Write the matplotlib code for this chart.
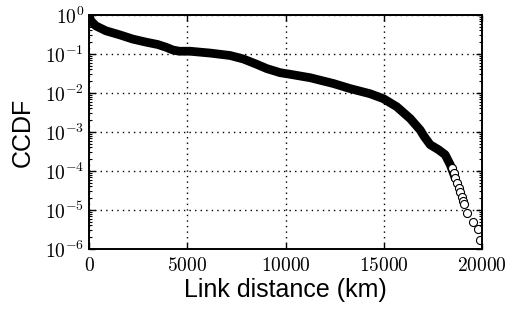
import math
import matplotlib
matplotlib.use('Agg')
import matplotlib.pyplot as plt
from matplotlib.ticker import FuncFormatter, LogLocator, FixedLocator

plt.rcParams['mathtext.fontset'] = 'cm'
plt.rcParams['font.family'] = ['Liberation Sans', 'DejaVu Sans']

# CCDF of link distance (dense part of the curve)
dist_km = [0, 100, 356, 865, 1542, 2224, 2901, 3496, 3919, 4260, 4590, 5140,
           6158, 7176, 7852, 8534, 9043, 9720, 10229, 11247, 12430, 13282,
           14300, 14977, 15659, 16336, 16845, 17050, 17354, 17775, 18117,
           18372, 18626]
ccdf = [0.95, 0.70, 0.52, 0.39, 0.31, 0.24, 0.20, 0.174, 0.148, 0.126, 0.117,
        0.117, 0.105, 0.091, 0.074, 0.054, 0.042, 0.033, 0.030, 0.0245,
        0.0174, 0.0129, 0.0095, 0.0071, 0.0044, 0.0022, 0.00112, 7.6e-4,
        4.7e-4, 3.5e-4, 2.6e-4, 1.45e-4, 6.6e-5]

# sparse tail, drawn as separate open circles
tail_km = [18450, 18540, 18626, 18710, 18796, 18880, 18967, 19030, 19084,
           19222, 19517, 19796, 19873]
tail_ccdf = [1.2e-4, 9.0e-5, 6.6e-5, 5.0e-5, 3.6e-5, 2.8e-5, 2.2e-5, 1.7e-5,
             1.38e-5, 8.5e-6, 4.8e-6, 3.2e-6, 1.7e-6]

xticks = [0, 5000, 10000, 15000, 20000]

fig = plt.figure(figsize=(5.1, 3.1), dpi=100)
ax = fig.add_axes([0.1745, 0.197, 0.771, 0.755])

ax.plot(dist_km, ccdf, color='black', lw=6.3, solid_capstyle='round',
        solid_joinstyle='round')
ax.plot(tail_km, tail_ccdf, linestyle='none', marker='o', ms=5.8,
        mfc='white', mec='black', mew=0.8)

ax.set_yscale('log')
ax.set_xlim(0, 20000)
ax.set_ylim(1e-6, 1)

ax.xaxis.set_major_locator(FixedLocator(xticks))
ax.xaxis.set_major_formatter(FuncFormatter(lambda v, p: r'$%d$' % v))
ax.yaxis.set_major_locator(LogLocator(base=10, numticks=10))
ax.yaxis.set_minor_locator(LogLocator(base=10, subs=range(2, 10), numticks=20))
ax.yaxis.set_major_formatter(FuncFormatter(lambda v, p: r'$10^{%d}$' % round(math.log10(v))))

ax.tick_params(which='both', direction='in', top=True, right=True, labelsize=14)
ax.tick_params(which='major', length=4, width=1)
ax.tick_params(which='minor', length=2.5, width=0.8)
ax.tick_params(axis='x', pad=6)

for s in ax.spines.values():
    s.set_linewidth(1.4)

ax.grid(True, which='major', color='black', linestyle=(0, (1, 3)), lw=1)

ax.set_xlabel('Link distance (km)', fontsize=18, labelpad=2)
ax.set_ylabel('CCDF', fontsize=18, labelpad=7)

fig.savefig('out.png', dpi=100)
